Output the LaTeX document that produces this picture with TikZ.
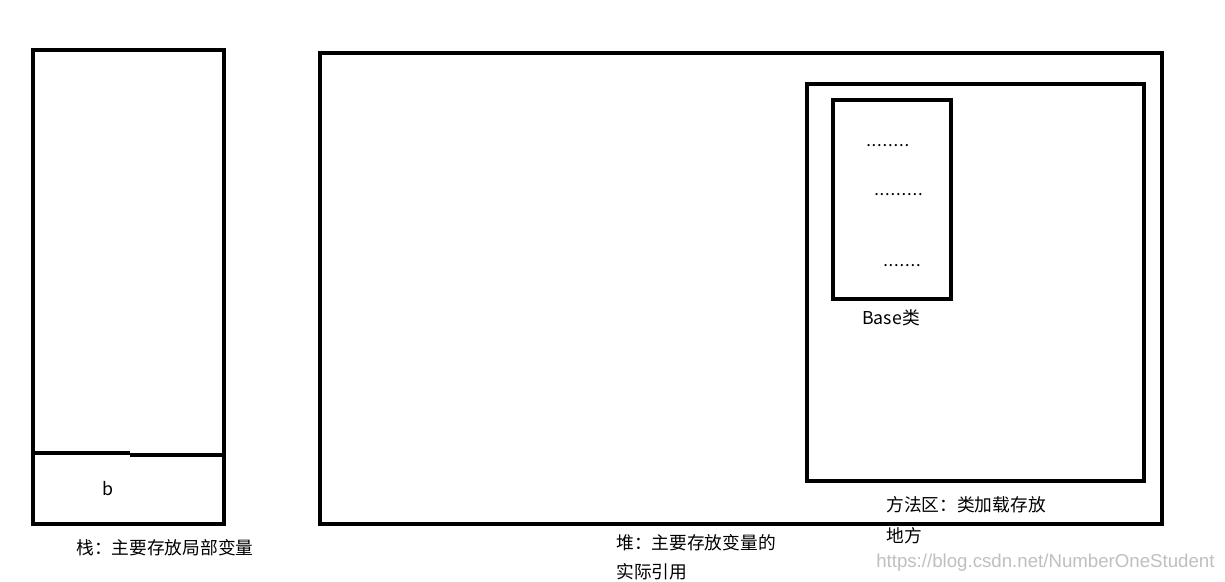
\documentclass[tikz,border=0pt]{standalone}
\usepackage{fontspec}
\setmainfont{Noto Sans CJK SC}
\newfontfamily\wmfont{Liberation Sans}
\newfontfamily\dotfont[LetterSpace=5]{Noto Sans CJK SC}
\begin{document}
\begin{tikzpicture}[x=0.75pt,y=-0.75pt,
  box/.style={draw=black,line width=2.3pt},
  lbl/.style={inner sep=0pt,anchor=west,font=\fontsize{13.3pt}{16pt}\selectfont},
  dots/.style={inner sep=0pt,anchor=west,font=\dotfont\fontsize{12.5pt}{15pt}\selectfont}]
\useasboundingbox (0,0) rectangle (1225,582);
% stack
\draw[box] (33,50) rectangle (224,524);
\coordinate (d1) at (33,453);
\coordinate (d2) at (130,453);
\coordinate (d3) at (130,455);
\coordinate (d4) at (226,455);
\draw[line width=2.3pt] (d1) -- (d2);
\draw[line width=2.3pt] (d3) -- (d4);
\node[lbl] (b) at (102,489) {b};
\node[lbl] (stacklbl) at (76,548) {栈：主要存放局部变量};
% heap
\draw[box] (320,53) rectangle (1162,524);
\node[lbl] (heaplbl1) at (616,543) {堆：主要存放变量的};
\node[lbl] (heaplbl2) at (616,572) {实际引用};
% method area
\draw[box] (807,84) rectangle (1144,481);
\node[lbl] (mlbl1) at (886,505) {方法区：类加载存放};
\node[lbl] (mlbl2) at (886,536) {地方};
% Base class
\draw[box] (833,100) rectangle (951,299);
\node[dots] (dt1) at (866,146) {........};
\node[dots] (dt2) at (874,195) {.........};
\node[dots] (dt3) at (883,266) {.......};
\node[lbl] (baselbl) at (862,318) {Base类};
% watermark
\node[inner sep=0pt,anchor=west,text=black!25,font=\wmfont\fontsize{14pt}{16pt}\selectfont] (wm) at (876,563) {https://blog.csdn.net/NumberOneStudent};
\end{tikzpicture}
\end{document}
